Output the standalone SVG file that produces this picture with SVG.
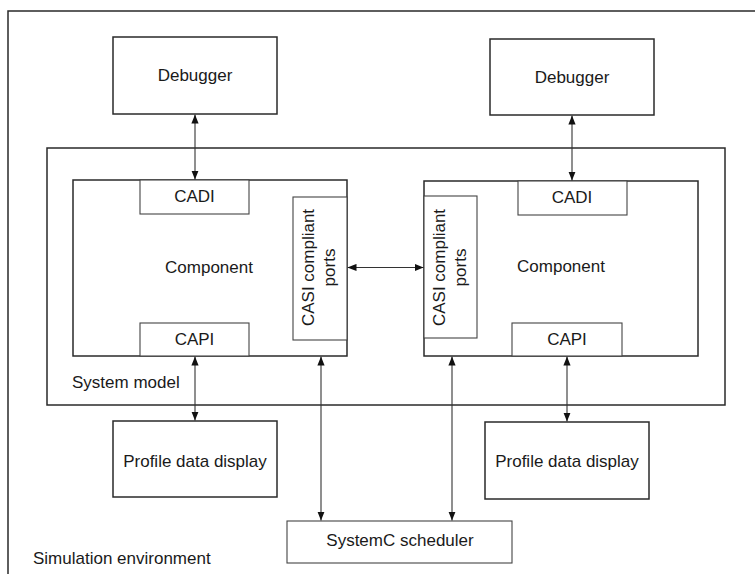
<svg xmlns="http://www.w3.org/2000/svg" width="755" height="574" viewBox="0 0 755 574">
<style>
  .box { fill: #fff; stroke: #2a2a2a; stroke-width: 1.5; }
  .frame { fill: none; stroke: #2a2a2a; stroke-width: 1.5; }
  .inner { fill: #fff; stroke: #444; stroke-width: 1.1; }
  .conn { fill: none; stroke: #333; stroke-width: 1.1; marker-start: url(#ah); marker-end: url(#ah); }
  text { font-family: "Liberation Sans", Arial, sans-serif; font-size: 17px; fill: #1a1a1a; }
  .c { text-anchor: middle; }
</style>
<defs>
  <marker id="ah" viewBox="0 0 10 8" refX="10" refY="4" markerWidth="9" markerHeight="8" markerUnits="userSpaceOnUse" orient="auto-start-reverse">
    <path d="M0,0 L10,4 L0,8 z" fill="#111"/>
  </marker>
</defs>
<rect width="755" height="574" fill="#fff"/>

<g id="simulation-environment">
  <rect class="frame" x="8" y="11" width="780" height="600"/>
  <text x="33" y="564">Simulation environment</text>
</g>

<g id="system-model">
  <rect class="frame" x="47" y="148" width="678" height="257"/>
  <text x="72" y="388">System model</text>
</g>

<g id="debugger-left">
  <rect class="box" x="113" y="37" width="164" height="77"/>
  <text class="c" x="195" y="81">Debugger</text>
</g>
<g id="debugger-right">
  <rect class="box" x="490" y="39" width="164" height="76"/>
  <text class="c" x="572" y="83">Debugger</text>
</g>

<g id="component-left">
  <rect class="box" x="73" y="180" width="274" height="176"/>
  <text class="c" x="209" y="273">Component</text>
</g>
<g id="cadi-left">
  <rect class="inner" x="140" y="180" width="109" height="34"/>
  <text class="c" x="194.5" y="202">CADI</text>
</g>
<g id="capi-left">
  <rect class="inner" x="140" y="323" width="109" height="33"/>
  <text class="c" x="194.5" y="345">CAPI</text>
</g>
<g id="casi-left">
  <rect class="inner" x="293" y="197" width="54" height="143"/>
  <text class="c" transform="translate(314,267.5) rotate(-90)">CASI compliant</text>
  <text class="c" transform="translate(334.5,267.5) rotate(-90)">ports</text>
</g>

<g id="component-right">
  <rect class="box" x="424" y="181" width="274" height="175"/>
  <text class="c" x="561" y="272">Component</text>
</g>
<g id="cadi-right">
  <rect class="inner" x="518" y="181" width="109" height="34"/>
  <text class="c" x="572" y="203">CADI</text>
</g>
<g id="capi-right">
  <rect class="inner" x="512" y="323" width="110" height="33"/>
  <text class="c" x="567" y="345">CAPI</text>
</g>
<g id="casi-right">
  <rect class="inner" x="424" y="196" width="53" height="142"/>
  <text class="c" transform="translate(444.5,267.5) rotate(-90)">CASI compliant</text>
  <text class="c" transform="translate(465.5,267.5) rotate(-90)">ports</text>
</g>

<g id="profile-left">
  <rect class="box" x="113" y="421" width="164" height="76"/>
  <text class="c" x="195" y="467">Profile data display</text>
</g>
<g id="profile-right">
  <rect class="box" x="485" y="422" width="164" height="77"/>
  <text class="c" x="567" y="467">Profile data display</text>
</g>

<g id="systemc-scheduler">
  <rect class="inner" x="287" y="521" width="225" height="42"/>
  <text class="c" x="400" y="546">SystemC scheduler</text>
</g>

<g id="connectors">
  <line class="conn" x1="195" y1="114.5" x2="195" y2="179.5"/>
  <line class="conn" x1="572" y1="115.5" x2="572" y2="180.5"/>
  <line class="conn" x1="347.5" y1="267.5" x2="423.5" y2="267.5"/>
  <line class="conn" x1="195" y1="356.5" x2="195" y2="420.5"/>
  <line class="conn" x1="567" y1="356.5" x2="567" y2="421.5"/>
  <line class="conn" x1="321" y1="356.5" x2="321" y2="520.5"/>
  <line class="conn" x1="452" y1="356.5" x2="452" y2="520.5"/>
</g>
</svg>
